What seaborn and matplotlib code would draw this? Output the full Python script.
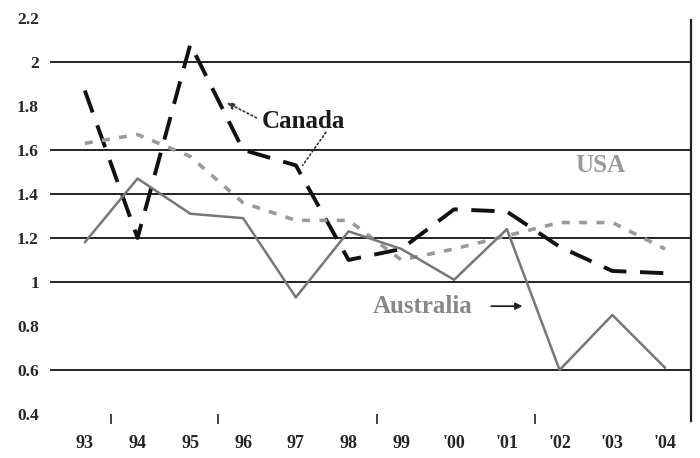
import numpy as np
import pandas as pd
import matplotlib
matplotlib.use('Agg')
import matplotlib.pyplot as plt
import seaborn as sns

years = ['93', '94', '95', '96', '97', '98', '99', "'00", "'01", "'02", "'03", "'04"]
canada = [1.87, 1.20, 2.08, 1.60, 1.53, 1.10, 1.15, 1.33, 1.32, 1.16, 1.05, 1.04]
usa = [1.63, 1.67, 1.57, 1.36, 1.28, 1.28, 1.10, 1.15, 1.21, 1.27, 1.27, 1.15]
australia = [1.18, 1.47, 1.31, 1.29, 0.93, 1.23, 1.15, 1.01, 1.24, 0.60, 0.85, 0.61]

yticks = [0.4, 0.6, 0.8, 1, 1.2, 1.4, 1.6, 1.8, 2, 2.2]
ylabels = ['0.4', '0.6', '0.8', '1', '1.2', '1.4', '1.6', '1.8', '2', '2.2']
grid_levels = [0.6, 1, 1.2, 1.4, 1.6, 2]
minor_ticks = [0.49, 2.52, 5.54, 8.54]

df = pd.DataFrame({'idx': np.arange(len(years)), 'Canada': canada, 'USA': usa, 'Australia': australia})
df = df.melt(id_vars='idx', var_name='country', value_name='value')

sns.set_style('white')
plt.rcParams['font.family'] = ['Liberation Serif', 'DejaVu Serif']

fig = plt.figure(figsize=(7, 4.58), dpi=100)
ax = fig.add_axes([0.0714, 0.096, 0.9157, 0.865])

ax.hlines(grid_levels, -0.66, 11.49, color='#222222', lw=1.4, zorder=1)

sns.lineplot(data=df, x='idx', y='value', hue='country', style='country',
             palette={'Canada': '#111111', 'USA': '#9a9a9a', 'Australia': '#777777'},
             dashes={'Canada': (6, 3.5), 'USA': (2.2, 2.6), 'Australia': ''},
             size='country', sizes={'Canada': 2.8, 'USA': 2.6, 'Australia': 1.8},
             legend=False, ax=ax, zorder=3)

ax.set_xlim(-0.66, 11.49)
ax.set_ylim(0.4, 2.2)
ax.set_xticks(range(len(years)))
ax.set_xticklabels(years)
ax.set_xticks(minor_ticks, minor=True)
ax.set_yticks(yticks)
ax.set_yticklabels(ylabels)
ax.tick_params(axis='x', which='major', length=0, pad=15, labelsize=13)
ax.tick_params(axis='x', which='minor', length=7, width=1.2, direction='out', color='#222222', bottom=True)
ax.tick_params(axis='y', length=0, pad=8, labelsize=12.5)
for lab in ax.get_xticklabels() + ax.get_yticklabels():
    lab.set_fontweight('bold')
ax.set_xlabel('')
ax.set_ylabel('')

for s in ['left', 'top', 'bottom']:
    ax.spines[s].set_visible(False)
ax.spines['right'].set_color('#222222')
ax.spines['right'].set_linewidth(1.6)
ax.spines['right'].set_bounds(0.37, 2.19)

# labels
ax.text(3.36, 1.73, 'Canada', fontsize=18, fontweight='bold', color='#1a1a1a', va='center', ha='left')
ax.annotate('', xy=(2.65, 1.82), xytext=(3.3, 1.74),
            arrowprops=dict(arrowstyle='-|>', linestyle=':', color='#333333', lw=1.2))
ax.annotate('', xy=(4.1, 1.52), xytext=(4.6, 1.69),
            arrowprops=dict(arrowstyle='-', linestyle=':', color='#333333', lw=1.2))
ax.text(9.3, 1.53, 'USA', fontsize=18, fontweight='bold', color='#999999', va='center', ha='left')
ax.text(5.45, 0.89, 'Australia', fontsize=18, fontweight='bold', color='#888888', va='center', ha='left')
ax.annotate('', xy=(8.35, 0.89), xytext=(7.65, 0.89),
            arrowprops=dict(arrowstyle='-|>', color='#222222', lw=1.3))

fig.savefig('out.png', dpi=100)
